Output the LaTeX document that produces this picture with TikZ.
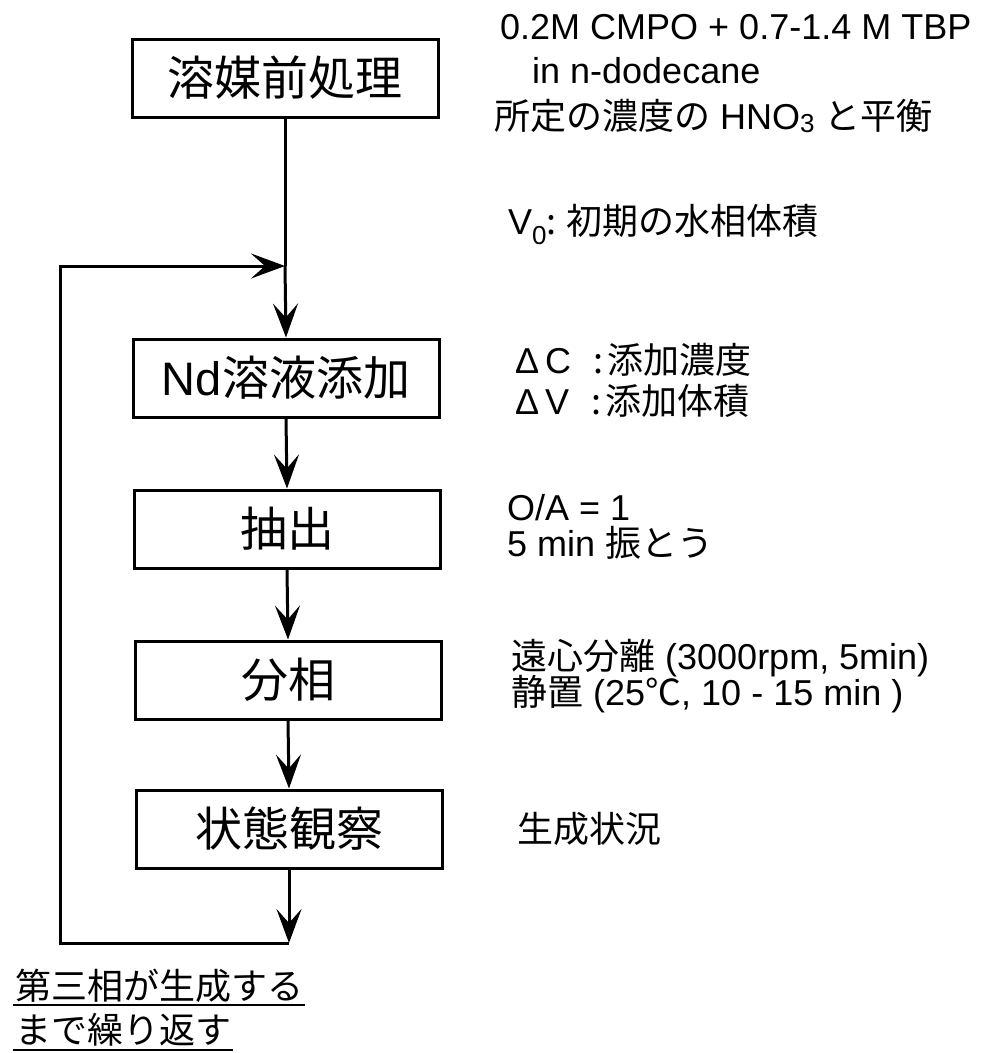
\documentclass[tikz,border=0pt]{standalone}
\usepackage{fontspec}
\setmainfont{Liberation Sans}
\newfontfamily\jp{Noto Sans CJK JP}
\usetikzlibrary{arrows.meta}
\begin{document}
\begin{tikzpicture}[x=1pt,y=-1pt,
  stepbox/.style={draw,line width=3pt,rectangle,minimum width=306pt,minimum height=78pt,inner sep=0pt,font=\fontsize{47}{47}\selectfont},
  note/.style={anchor=base west,inner sep=0pt,font=\fontsize{36}{36}\selectfont},
  loopnote/.style={anchor=base west,inner xsep=2pt,inner ysep=0pt,font=\fontsize{36}{36}\selectfont\jp},
  arr/.style={line width=3pt,-{Stealth[length=34pt,width=25pt,inset=14pt]}},
  ln/.style={line width=3pt}]
\useasboundingbox (0,0) rectangle (996,1053);
\node[stepbox] (b1) at (285,78) {\jp 溶媒前処理};
\node[stepbox] (b2) at (286,378) {Nd{\jp 溶液添加}};
\node[stepbox] (b3) at (287,529) {\jp 抽出};
\node[stepbox] (b4) at (288,680) {\jp 分相};
\node[stepbox] (b5) at (289,829) {\jp 状態観察};
\coordinate (j) at (285,266);
\coordinate (bot) at (289,943);
\coordinate (lb) at (60,943);
\coordinate (lt) at (60,266);
\draw[ln] (b1.south) -- (j);
\draw[arr] (j) -- (b2.north);
\draw[arr] (b2.south) -- (b3.north);
\draw[arr] (b3.south) -- (b4.north);
\draw[arr] (b4.south) -- (b5.north);
\draw[arr] (b5.south) -- (bot);
\draw[arr,line join=miter] (bot) -- (lb) -- (lt) -- (j);
% right notes
\node[note] (t1) at (500,39) {0.2M CMPO + 0.7-1.4 M TBP};
\node[note] (t2) at (532,83) {in n-dodecane};
\node[note] (t3) at (494,129) {{\jp 所定の濃度の} HNO\raisebox{-3pt}{\fontsize{26}{26}\selectfont 3} {\jp と平衡}};
\node[note] (t4) at (508,234) {V\raisebox{-10pt}{\fontsize{26}{26}\selectfont 0}{\jp :}\hspace{10pt}{\jp 初期の水相体積}};
\node[note] (t5) at (515,373) {Δ\hspace{6pt}C\hspace{22pt}{\jp :}\hspace{4pt}{\jp 添加濃度}};
\node[note] (t6) at (515,414) {Δ\hspace{6pt}V\hspace{22pt}{\jp :}\hspace{4pt}{\jp 添加体積}};
\node[note] (t7) at (507,520) {O/A = 1};
\node[note] (t8) at (507,556) {5 min {\jp 振とう}};
\node[note] (t9) at (511,669) {{\jp 遠心分離} (3000rpm, 5min)};
\node[note] (t10) at (511,705) {{\jp 静置} (25{\jp ℃}, 10 - 15 min )};
\node[note] (t11) at (517,842) {\jp 生成状況};
% loop label
\node[loopnote] (u1) at (13,999) {第三相が生成する};
\node[loopnote] (u2) at (13,1043) {まで繰り返す};
\draw[line width=2pt] ([yshift=-6pt]u1.base west) -- ([yshift=-6pt]u1.base east);
\draw[line width=2pt] ([yshift=-7pt]u2.base west) -- ([yshift=-7pt]u2.base east);
\end{tikzpicture}
\end{document}
